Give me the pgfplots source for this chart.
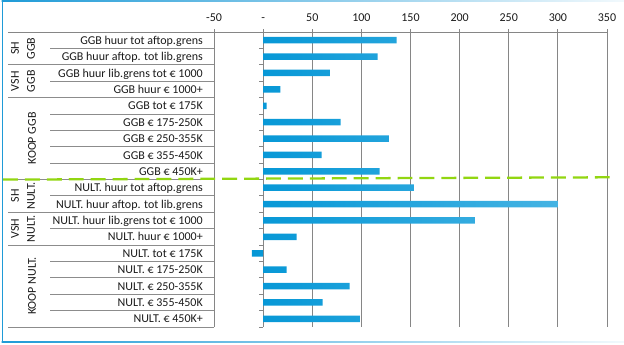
\documentclass[border=0pt]{standalone}
\usepackage{pgfplots}
\pgfplotsset{compat=1.18}
\usepackage{fontspec}
\setmainfont{Carlito}
\definecolor{barL}{HTML}{0597D6}
\definecolor{barR}{HTML}{45B3E3}
\definecolor{gridc}{HTML}{868686}
\definecolor{tabc}{HTML}{8C8C8C}
\definecolor{dashg}{HTML}{92D611}
\definecolor{bord}{HTML}{1F9BD7}
\definecolor{txt}{HTML}{1A1A1A}
\begin{document}
\begin{tikzpicture}[font=\fontsize{12bp}{14bp}\selectfont]
\path[use as bounding box] (0,0) rectangle (624bp,-345bp);
\begin{scope}[x=1bp,y=1bp]
% outer border
\shade[left color=bord, right color=bord!6] (1.6,-0.2) rectangle (624,-1.4);
\shade[left color=bord, right color=bord!6] (1.6,-341.2) rectangle (624,-342.5);
\fill[bord] (1.6,-0.2) rectangle (2.9,-342.5);
\end{scope}
\begin{axis}[
  at={(214bp,-32bp)}, anchor=north west,
  width=393bp, height=295bp, scale only axis,
  xmin=-50, xmax=350, ymin=-0.5, ymax=17.5, y dir=reverse,
  xbar, bar width=6.5bp,
  axis line style={draw=none},
  xtick={-50,0,50,100,150,200,250,300,350},
  xticklabels={-50,-,50,100,150,200,250,300,350},
  xtick pos=upper, xticklabel pos=upper,
  tick align=outside, major tick length=3bp,
  xtick style={gridc, line width=0.8bp},
  xmajorgrids, grid style={gridc, line width=0.8bp},
  ytick={0,...,17}, ytick pos=left, ytick style={draw=none},
  yticklabels={GGB huur tot aftop.grens, GGB huur aftop. tot lib.grens, GGB huur lib.grens tot € 1000, GGB huur € 1000+, GGB tot € 175K, GGB € 175-250K, GGB € 250-355K, GGB € 355-450K, GGB € 450K+, NULT. huur tot aftop.grens, NULT. huur aftop. tot lib.grens, NULT. huur lib.grens tot € 1000, NULT. huur € 1000+, NULT. tot € 175K, NULT. € 175-250K, NULT. € 250-355K, NULT. € 355-450K, NULT. € 450K+},
  yticklabel style={anchor=base east, inner xsep=0pt, xshift=-8bp, yshift=-4.1bp},
  xticklabel style={yshift=4bp},
  tick label style={font=\fontsize{12bp}{14bp}\selectfont, text=txt},
  clip=false,
]
\addplot[draw=none, left color=barL, right color=barR] coordinates {
(136,0) (116.5,1) (68,2) (17.5,3) (3.5,4) (79,5) (128,6) (59.5,7) (118.5,8)
(153.5,9) (300,10) (215.5,11) (34,12) (-11.5,13) (24,14) (88,15) (60.5,16) (98.5,17)};
\end{axis}
\begin{scope}[x=1bp,y=1bp]
% top line
\draw[gridc, line width=0.8] (8,-32) -- (607,-32);
% table lines
\foreach \k in {2,4,9,11,13,18} \draw[tabc, line width=0.8] (8,{-32-\k*16.3889}) -- (214,{-32-\k*16.3889});
\foreach \k in {1,3,5,6,7,8,10,12,14,15,16,17} \draw[tabc, line width=0.8] (50,{-32-\k*16.3889}) -- (214,{-32-\k*16.3889});
% small ticks at x=0
\foreach \k in {0,...,18} \draw[gridc, line width=0.8] (259.3,{-32-\k*16.3889}) -- (263.3,{-32-\k*16.3889});
% group labels
\begin{scope}[every node/.style={rotate=90, text=txt, inner sep=0pt}]
\node at (15,-48.4) {SH};
\node at (31,-48.4) {GGB};
\node at (15,-81.2) {VSH};
\node at (31,-81.2) {GGB};
\node at (32,-138.5) {KOOP GGB};
\node at (15,-195.9) {SH};
\node at (31,-195.9) {NULT.};
\node at (15,-228.7) {VSH};
\node at (31,-228.7) {NULT.};
\node at (32,-286.0) {KOOP NULT.};
\end{scope}
% dashed green line
\draw[dashg, line width=2.3, dash pattern=on 15 off 7] (3,-179.6) -- (612,-177.3);
\end{scope}
\end{tikzpicture}
\end{document}
